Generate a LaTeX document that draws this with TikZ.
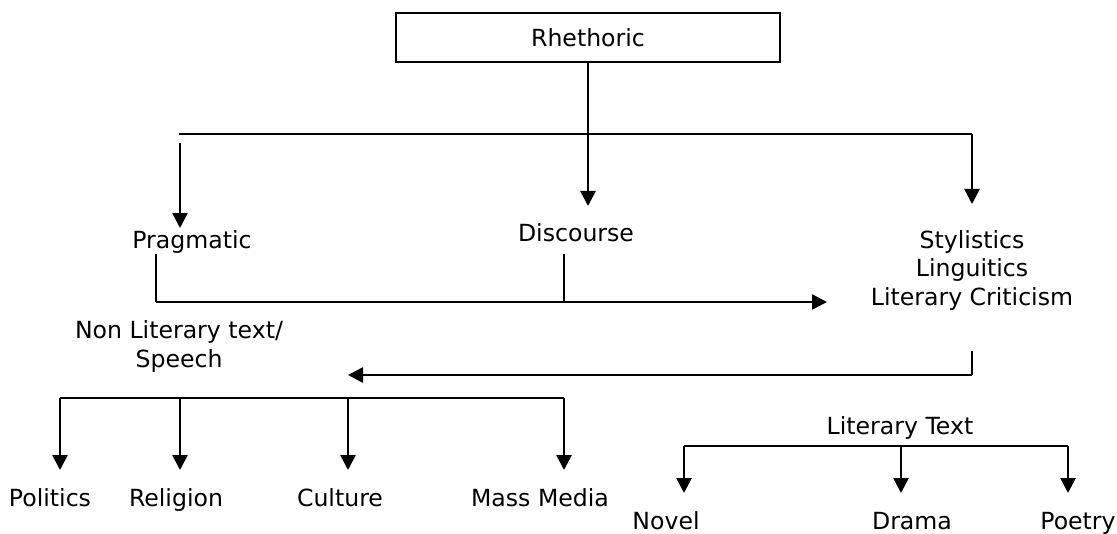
\documentclass[tikz,border=0pt]{standalone}
\usepackage{fontspec}
\setmainfont{DejaVu Sans}
\usetikzlibrary{arrows.meta}
\begin{document}
\begin{tikzpicture}[x=0.5pt,y=-0.5pt,
  lbl/.style={inner sep=0pt, anchor=base, align=center, font=\fontsize{11.8}{14.25}\selectfont},
  boxnode/.style={draw, line width=1pt, minimum width=192pt, minimum height=24.5pt, inner sep=0pt, font=\fontsize{11.8}{14.25}\selectfont},
  conn/.style={line width=1pt},
  arr/.style={line width=1.3pt, -{Triangle[length=7.5pt,width=7.5pt]}}]
\useasboundingbox (0,0) rectangle (1117,534);
% nodes (anchor base = baseline of the last line)
\node[boxnode] (rh) at (588,37.5) {Rhethoric};
\node[lbl] (prag) at (192,248) {Pragmatic};
\node[lbl] (disc) at (576,242) {Discourse};
\node[lbl] (sty) at (972,305) {Stylistics\\Linguitics\\Literary Criticism};
\node[lbl] (nonlit) at (179,367) {Non Literary text/\\Speech};
\node[lbl] (pol) at (50,506) {Politics};
\node[lbl] (rel) at (176,506) {Religion};
\node[lbl] (cul) at (340,506) {Culture};
\node[lbl] (mm) at (540,506) {Mass Media};
\node[lbl] (lit) at (900,434) {Literary Text};
\node[lbl] (nov) at (666,529) {Novel};
\node[lbl] (dra) at (912,529) {Drama};
\node[lbl] (poe) at (1078,529) {Poetry};
% coordinates
\coordinate (hL) at (179,134);
\coordinate (hR) at (972,134);
\coordinate (styTip) at (972,204);
\coordinate (pragTop) at (180,143);
\coordinate (pragTip) at (180,228);
\coordinate (discTip) at (588,206);
\coordinate (pragBot) at (156,254);
\coordinate (pragCorner) at (156,302);
\coordinate (discBot) at (564,254);
\coordinate (discJoin) at (564,302);
\coordinate (midTip) at (827,302);
\coordinate (styBot) at (972,351);
\coordinate (retCorner) at (972,375);
\coordinate (nonTip) at (348,375);
\coordinate (b1) at (60,398);
\coordinate (b2) at (180,398);
\coordinate (b3) at (348,398);
\coordinate (b4) at (564,398);
\coordinate (t1) at (60,470);
\coordinate (t2) at (180,470);
\coordinate (t3) at (348,470);
\coordinate (t4) at (564,470);
\coordinate (r1) at (684,446);
\coordinate (r2) at (901,446);
\coordinate (r3) at (1068,446);
\coordinate (s1) at (684,493);
\coordinate (s2) at (901,493);
\coordinate (s3) at (1068,493);
% connectors
\draw[arr] (rh.south) -- (discTip);
\draw[conn] (hL) -- (hR);
\draw[arr] (hR) -- (styTip);
\draw[arr] (pragTop) -- (pragTip);
\draw[conn] (pragBot) -- (pragCorner);
\draw[arr] (pragCorner) -- (midTip);
\draw[conn] (discBot) -- (discJoin);
\draw[conn] (styBot) -- (retCorner);
\draw[arr] (retCorner) -- (nonTip);
\draw[conn] (b1) -- (b4);
\draw[arr] (b1) -- (t1);
\draw[arr] (b2) -- (t2);
\draw[arr] (b3) -- (t3);
\draw[arr] (b4) -- (t4);
\draw[conn] (r1) -- (r3);
\draw[arr] (r1) -- (s1);
\draw[arr] (r2) -- (s2);
\draw[arr] (r3) -- (s3);
\end{tikzpicture}
\end{document}
